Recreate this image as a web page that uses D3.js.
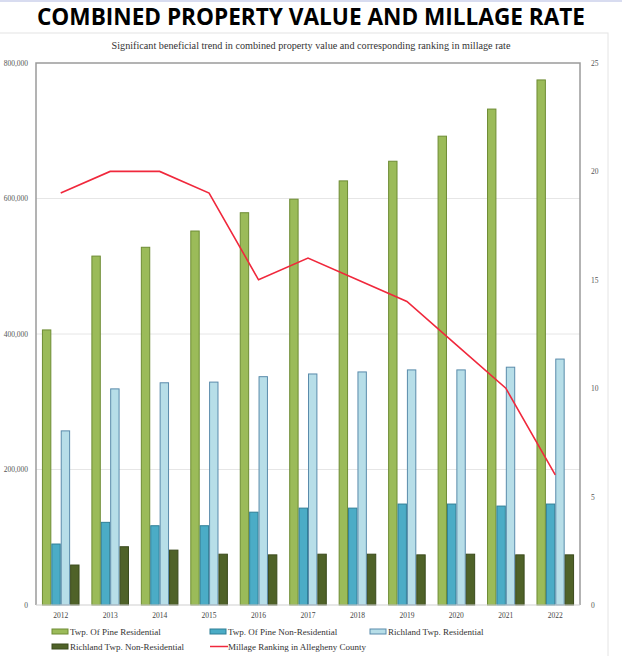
<!DOCTYPE html>
<html><head><meta charset="utf-8">
<script src="https://cdn.jsdelivr.net/npm/d3@7"></script>
<style>
html,body{margin:0;padding:0;background:#fff;overflow:hidden;}
svg{display:block;}
</style></head>
<body>
<svg id="chart" width="622" height="656"></svg>
<script>
const years = ["2012","2013","2014","2015","2016","2017","2018","2019","2020","2021","2022"];
const seriesNames = ["Twp. Of Pine Residential","Twp. Of Pine Non-Residential","Richland Twp. Residential","Richland Twp. Non-Residential"];
// values in millions
const pineResidential    = [406, 515, 528, 552, 579, 599, 626, 655, 692, 732, 775];
const pineNonResidential = [90, 122, 117, 117, 137, 143, 143, 149, 149, 146, 149];
const richlandResidential = [257, 319, 328, 329, 337, 341, 344, 347, 347, 351, 363];
const richlandNonResidential = [59, 86, 81, 75, 74, 75, 75, 74, 75, 74, 74];
const millageRanking = [19, 20, 20, 19, 15, 16, 15, 14, 12, 10, 6];
const leftTicks = [0, 200, 400, 600, 800];
const rightTicks = [0, 5, 10, 15, 20, 25];
const lineName = "Millage Ranking in Allegheny County";

const seriesValues = [pineResidential, pineNonResidential, richlandResidential, richlandNonResidential];
const fills = ["#9bbb59", "#4bacc6", "#b7dee8", "#4f6228"];
const strokes = ["#6e8c34", "#2f7f96", "#5a8bab", "#3a4a1c"];

const svg = d3.select("#chart");
const serif = "'Liberation Serif','DejaVu Serif',serif";

// title
svg.append("line").attr("x1",0).attr("x2",622).attr("y1",1).attr("y2",1).attr("stroke","#d8dcf0").attr("stroke-width",2);
svg.append("text").attr("x",311).attr("y",25).attr("text-anchor","middle")
  .attr("font-family","'Open Sans','Noto Sans',sans-serif").attr("font-weight","bold")
  .attr("font-size",22.6).attr("fill","#000").text("COMBINED PROPERTY VALUE AND MILLAGE RATE");

// inner image frame
svg.append("rect").attr("x",-2).attr("y",33).attr("width",610).attr("height",630)
  .attr("fill","none").attr("stroke","#e4e4e4");

svg.append("text").attr("x",311).attr("y",49).attr("text-anchor","middle")
  .attr("font-family",serif).attr("font-size",10.2).attr("fill","#333")
  .text("Significant beneficial trend in combined property value and corresponding ranking in millage rate");

const L = 36, R = 580, T = 63, B = 605;
const x0 = d3.scaleBand().domain(years).range([L, R]).paddingInner(0.24).paddingOuter(0.12);
const x1 = d3.scaleBand().domain(d3.range(4)).range([0, x0.bandwidth()]);
const y = d3.scaleLinear().domain([0, 800]).range([B, T]);
const y2 = d3.scaleLinear().domain([0, 25]).range([B, T]);
const xc = d => x0(d) + x0.bandwidth()/2;

// gridlines
svg.append("g").selectAll("line").data(leftTicks.slice(1, -1)).join("line")
  .attr("x1", L).attr("x2", R).attr("y1", d=>y(d)).attr("y2", d=>y(d))
  .attr("stroke", "#e6e6e6").attr("stroke-width", 1);

// bars
const groups = svg.append("g").selectAll("g").data(years).join("g")
  .attr("transform", d => `translate(${x0(d)},0)`);
groups.selectAll("rect").data((d,i) => seriesValues.map((s,k) => ({k, v: s[i]}))).join("rect")
  .attr("x", d => x1(d.k)+0.5).attr("width", x1.bandwidth()-1)
  .attr("y", d => y(d.v)).attr("height", d => B - y(d.v))
  .attr("fill", d => fills[d.k]).attr("stroke", d => strokes[d.k]).attr("stroke-width", 1);

// frame
svg.append("path").attr("d", `M${L},${B}V${T}H${R}V${B}`).attr("fill","none").attr("stroke","#9a9a9a").attr("stroke-width",1.5);
svg.append("line").attr("x1",L).attr("x2",R).attr("y1",B).attr("y2",B).attr("stroke","#cfcfcf");

// line
svg.append("path").datum(millageRanking)
  .attr("d", d3.line().x((d,i)=>xc(years[i])).y(d=>y2(d)))
  .attr("fill","none").attr("stroke","#f0283c").attr("stroke-width",1.6);

// left axis
const leftAxis = d3.axisLeft(y).tickValues(leftTicks).tickSize(0).tickPadding(0)
  .tickFormat(d => d === 0 ? "0" : d3.format(",")(d*1000));
const gl = svg.append("g").attr("transform", `translate(28,0)`).call(leftAxis);
gl.select(".domain").remove();
gl.selectAll("text").attr("font-family", serif).attr("font-size", 7.5).attr("fill", "#555");

// right axis
const rightAxis = d3.axisRight(y2).tickValues(rightTicks).tickSize(0).tickPadding(0);
const gr = svg.append("g").attr("transform", `translate(591,0)`).call(rightAxis);
gr.select(".domain").remove();
gr.selectAll("text").attr("font-family", serif).attr("font-size", 7.5).attr("fill", "#555");

// bottom axis
const bottomAxis = d3.axisBottom(x0).tickSize(0).tickPadding(8);
const gb = svg.append("g").attr("transform", `translate(0,${B})`).call(bottomAxis);
gb.select(".domain").remove();
gb.selectAll("text").attr("font-family", serif).attr("font-size", 7.5).attr("fill", "#444");

// legend
const legendItems = [
  {name: seriesNames[0], k:0, x:52, y:632},
  {name: seriesNames[1], k:1, x:210, y:632},
  {name: seriesNames[2], k:2, x:370, y:632},
  {name: seriesNames[3], k:3, x:52, y:647},
  {name: lineName, k:-1, x:210, y:647}
];
const lg = svg.append("g").selectAll("g").data(legendItems).join("g")
  .attr("transform", d => `translate(${d.x},${d.y})`);
lg.each(function(d){
  const g = d3.select(this);
  if (d.k >= 0) {
    g.append("rect").attr("x",0).attr("y",-3).attr("width",16).attr("height",5)
      .attr("fill",fills[d.k]).attr("stroke",strokes[d.k]).attr("stroke-width",1);
  } else {
    g.append("line").attr("x1",0).attr("x2",18).attr("y1",-0.5).attr("y2",-0.5)
      .attr("stroke","#f0283c").attr("stroke-width",1.5);
  }
  g.append("text").attr("x",18).attr("y",2.8).attr("font-family",serif)
    .attr("font-size",9).attr("fill","#333").text(d.name);
});
</script>
</body></html>
